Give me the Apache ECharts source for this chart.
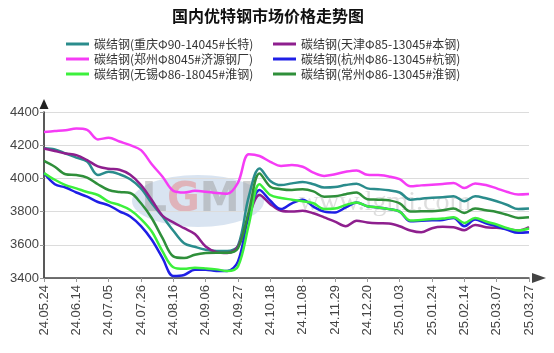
<!DOCTYPE html>
<html>
<head>
<meta charset="utf-8">
<script src="https://cdn.jsdelivr.net/npm/echarts@6/dist/echarts.min.js"></script>
<style>
html,body{margin:0;padding:0;background:#fff;}
#chart{width:554px;height:353px;}
</style>
</head>
<body>
<div id="chart"></div>
<script>
// ---- data ----
const categories = [
  '24.05.24','24.05.31','24.06.07','24.06.14','24.06.21','24.06.28','24.07.05','24.07.12','24.07.19',
  '24.07.26','24.08.02','24.08.09','24.08.16','24.08.23','24.08.30','24.09.06','24.09.13','24.09.20',
  '24.09.27','24.10.11','24.10.14','24.10.18','24.10.25','24.11.01','24.11.08','24.11.15','24.11.22',
  '24.11.29','24.12.06','24.12.13','24.12.20','24.12.25','24.12.30','25.01.03','25.01.10','25.01.17',
  '25.01.24','25.02.05','25.02.07','25.02.14','25.02.21','25.02.28','25.03.07','25.03.14','25.03.21',
  '25.03.27'
];
const seriesNames = [
  '碳结钢(重庆Φ90-14045#长特)',
  '碳结钢(天津Φ85-13045#本钢)',
  '碳结钢(郑州Φ8045#济源钢厂)',
  '碳结钢(杭州Φ86-13045#杭钢)',
  '碳结钢(无锡Φ86-18045#淮钢)',
  '碳结钢(常州Φ86-13045#淮钢)'
];
const chongqing = [4182,4175,4150,4125,4102,4020,4040,4025,3995,3940,3850,3770,3685,3610,3588,3570,3563,3562,3595,3890,4060,3985,3960,3970,3978,3965,3945,3948,3960,3968,3940,3935,3928,3915,3872,3878,3884,3886,3892,3862,3892,3880,3862,3840,3815,3818];
const tianjin = [4180,4165,4150,4140,4110,4072,4058,4052,4022,3960,3870,3775,3735,3700,3665,3590,3556,3550,3590,3770,3900,3845,3805,3800,3805,3790,3765,3740,3712,3745,3735,3730,3728,3712,3686,3675,3700,3708,3706,3688,3720,3706,3702,3695,3686,3706];
const zhengzhou = [4280,4285,4290,4300,4292,4235,4245,4222,4200,4170,4085,4010,3925,3915,3925,3920,3912,3908,3975,4145,4135,4100,4075,4080,4070,4035,4015,4025,4040,4048,4022,4020,4012,3995,3952,3958,3962,3966,3972,3942,3970,3960,3940,3918,3903,3906];
const hangzhou = [4032,3965,3945,3915,3890,3858,3838,3802,3770,3712,3630,3520,3412,3418,3450,3450,3442,3442,3500,3775,3930,3865,3815,3850,3872,3830,3800,3795,3825,3855,3832,3825,3815,3800,3742,3745,3748,3750,3762,3712,3752,3730,3712,3690,3672,3675];
const wuxi = [4032,3992,3960,3940,3918,3900,3860,3840,3810,3755,3680,3560,3465,3455,3462,3458,3452,3442,3470,3720,3965,3900,3882,3872,3862,3850,3815,3818,3840,3855,3832,3825,3815,3800,3746,3750,3755,3758,3766,3732,3762,3740,3722,3700,3686,3698];
const changzhou = [4105,4070,4025,4020,4005,3965,3930,3918,3912,3850,3760,3640,3530,3520,3540,3550,3552,3552,3580,3800,4030,3950,3935,3930,3935,3922,3890,3892,3905,3915,3875,3872,3868,3850,3800,3802,3802,3808,3818,3792,3818,3808,3798,3780,3762,3766];
const seriesValues = [chongqing, tianjin, zhengzhou, hangzhou, wuxi, changzhou];
const seriesColors = ['#2a8c8c','#8e1f8e','#f53cf5','#1f1fe6','#3cf03c','#2f8f3a'];
const yMin = 3400, yMax = 4400, yStep = 200;

const chart = echarts.init(document.getElementById('chart'), null, {renderer: 'canvas'});
const series = seriesNames.map((n, i) => ({
  name: n,
  type: 'line',
  data: seriesValues[i],
  smooth: 0.35,
  symbol: 'none',
  lineStyle: {width: 2.5, color: seriesColors[i]},
  itemStyle: {color: seriesColors[i]},
  z: 3
}));
const legendText = {fontFamily: 'Noto Sans CJK SC', fontSize: 12, color: '#333', lineHeight: 12};
const legendBase = {orient: 'vertical', top: 38, padding: 0, icon: 'rect',
  itemWidth: 23, itemHeight: 3, itemGap: 3, textStyle: legendText};
chart.setOption({
  animation: false,
  backgroundColor: '#fff',
  title: {
    text: '国内优特钢市场价格走势图',
    left: 268, top: 8, padding: 0, textAlign: 'center',
    textStyle: {fontFamily: 'Noto Sans CJK SC', fontSize: 16, fontWeight: 'bold', color: '#111'}
  },
  legend: [
    Object.assign({left: 66, data: [seriesNames[0], seriesNames[2], seriesNames[4]]}, legendBase),
    Object.assign({left: 273, data: [seriesNames[1], seriesNames[3], seriesNames[5]]}, legendBase)
  ],
  graphic: [
    {type: 'ellipse', shape: {cx: 198, cy: 201, rx: 66, ry: 26}, style: {fill: 'rgba(170,195,225,0.45)'}, z: 0, silent: true},
    {type: 'text', x: 198, y: 201, z: 0, silent: true,
     style: {text: '{a|L}{b|G}{a|MI}', align: 'center', verticalAlign: 'middle',
       rich: {
         a: {fontSize: 40, fontWeight: 'bold', fontFamily: 'DejaVu Sans', fill: 'rgba(150,150,150,0.45)'},
         b: {fontSize: 40, fontWeight: 'bold', fontFamily: 'DejaVu Sans', fill: 'rgba(230,120,120,0.45)'}
       }}},
    {type: 'text', x: 385, y: 203, z: 0, silent: true,
     style: {text: 'www.lgmi.com', fontSize: 28, fontFamily: 'Liberation Serif', fill: 'rgba(160,160,160,0.35)', align: 'center', verticalAlign: 'middle'}}
  ],
  grid: {left: 44, right: 25, top: 112, bottom: 75, containLabel: false},
  xAxis: {
    type: 'category',
    data: categories,
    boundaryGap: false,
    axisLine: {show: true, lineStyle: {color: '#444', width: 1.5},
      symbol: ['none', 'triangle'], symbolSize: [10, 14], symbolOffset: [0, 10]},
    axisTick: {show: true, interval: 2, length: 4, lineStyle: {color: '#999'}},
    axisLabel: {interval: 2, rotate: 90, fontFamily: 'Liberation Sans', fontSize: 13, color: '#444', margin: 7},
    splitLine: {show: false}
  },
  yAxis: {
    type: 'value',
    min: yMin, max: yMax, interval: yStep,
    axisLine: {show: true, lineStyle: {color: '#222', width: 1.5},
      symbol: ['none', 'triangle'], symbolSize: [9, 10], symbolOffset: [0, 8]},
    axisTick: {show: true, length: 4, lineStyle: {color: '#999'}},
    axisLabel: {fontFamily: 'Liberation Sans', fontSize: 13, color: '#444', margin: 5,
      formatter: v => String(v)},
    splitLine: {show: true, lineStyle: {color: '#dcdcdc', width: 1}}
  },
  series: series
});
</script>
</body>
</html>
